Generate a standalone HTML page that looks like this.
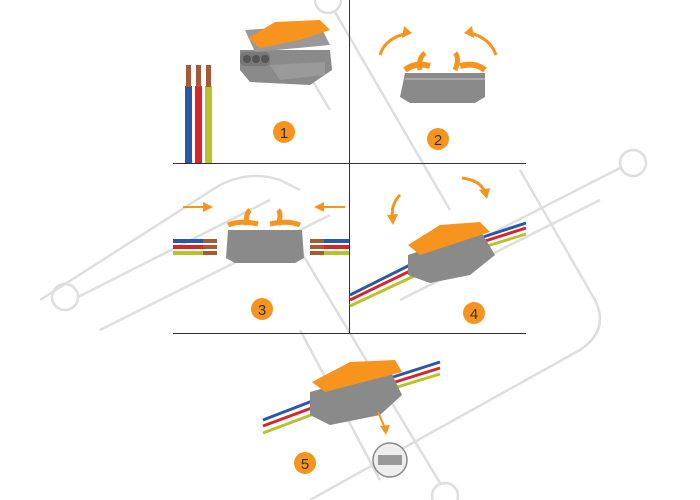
<!DOCTYPE html><html><head><style>body{margin:0;background:#fff}svg{display:block}</style></head><body>
<svg width="700" height="500" viewBox="0 0 700 500" xmlns="http://www.w3.org/2000/svg" font-family="Liberation Sans, sans-serif">
<rect width="700" height="500" fill="#fff"/>
<g stroke="#dedede" stroke-width="2.5" fill="none">
<circle cx="65" cy="297" r="13"/><circle cx="633" cy="163" r="13"/><circle cx="328" cy="0" r="13"/><circle cx="445" cy="496" r="13"/>
<line x1="78" y1="297" x2="270" y2="200"/><line x1="100" y1="330" x2="330" y2="215"/>
<line x1="620" y1="168" x2="420" y2="270"/><line x1="600" y1="200" x2="400" y2="300"/>
<line x1="335" y1="12" x2="450" y2="210"/><line x1="300" y1="60" x2="330" y2="110"/>
<line x1="440" y1="483" x2="300" y2="250"/><line x1="380" y1="480" x2="300" y2="330"/>
<path d="M40 300 L220 185 Q250 170 280 180 L300 190"/>
<path d="M310 500 L580 350 Q610 330 595 300 L520 170"/>
</g>
<g stroke="#333" stroke-width="1">
<line x1="349.5" y1="0" x2="349.5" y2="333"/>
<line x1="173" y1="163.5" x2="526" y2="163.5"/>
<line x1="173" y1="333.5" x2="526" y2="333.5"/>
</g>
<g>
<rect x="185" y="86" width="7" height="77" fill="#2a57a8"/><rect x="195" y="86" width="7" height="77" fill="#d9252a"/><rect x="205" y="86" width="7" height="77" fill="#b7c22c"/>
<rect x="186" y="65" width="5" height="22" fill="#a55a35"/><rect x="196" y="65" width="5" height="22" fill="#a55a35"/><rect x="206" y="65" width="5" height="22" fill="#a55a35"/>
</g>
<g>
<path d="M240 50 L330 50 L332 70 L310 85 L250 82 L240 70Z" fill="#8a8a8a"/>
<path d="M270 65 L325 62 L325 75 L280 80 Z" fill="#9a9a9a"/>
<path d="M245 30 L320 25 L330 45 L255 52 Z" fill="#999"/>
<path d="M248 38 L275 22 L320 20 L330 30 L300 40 L260 48Z" fill="#f7941d"/>
<rect x="240" y="52" width="30" height="14" rx="5" fill="#777"/>
<circle cx="247" cy="59" r="4" fill="#555"/><circle cx="256" cy="59" r="4" fill="#555"/><circle cx="265" cy="59" r="4" fill="#555"/>
</g>
<g>
<path d="M405 73 L485 73 L485 97 L475 103 L410 103 L400 97Z" fill="#8a8a8a"/>
<rect x="405" y="78" width="80" height="2" fill="#aaa"/>
<path d="M405 70 Q415 62 430 66 M460 66 Q475 62 485 70" stroke="#f7941d" stroke-width="6" fill="none"/>
<path d="M420 70 Q418 58 425 53 M455 70 Q460 58 455 53" stroke="#f7941d" stroke-width="5" fill="none"/>
<path d="M380 55 Q385 38 408 33" stroke="#f7941d" stroke-width="3" fill="none"/><path d="M404 26 L412 33 L402 38Z" fill="#f7941d"/>
<path d="M496 55 Q490 38 470 33" stroke="#f7941d" stroke-width="3" fill="none"/><path d="M472 26 L464 33 L474 38Z" fill="#f7941d"/>
</g>
<g>
<rect x="173" y="239" width="30" height="4" fill="#2a57a8"/><rect x="173" y="245" width="30" height="4" fill="#d9252a"/><rect x="173" y="251" width="30" height="4" fill="#b7c22c"/>
<rect x="203" y="239" width="14" height="4" fill="#a55a35"/><rect x="203" y="245" width="14" height="4" fill="#a55a35"/><rect x="203" y="251" width="14" height="4" fill="#a55a35"/>
<rect x="310" y="239" width="14" height="4" fill="#a55a35"/><rect x="310" y="245" width="14" height="4" fill="#a55a35"/><rect x="310" y="251" width="14" height="4" fill="#a55a35"/>
<rect x="324" y="239" width="25" height="4" fill="#2a57a8"/><rect x="324" y="245" width="25" height="4" fill="#d9252a"/><rect x="324" y="251" width="25" height="4" fill="#b7c22c"/>
<path d="M228 230 L302 230 L304 258 L295 263 L235 263 L226 258Z" fill="#8a8a8a"/>
<path d="M228 225 Q240 220 258 224 M270 224 Q288 220 300 225" stroke="#f7941d" stroke-width="5" fill="none"/>
<path d="M247 225 Q245 214 250 210 M278 225 Q282 214 278 210" stroke="#f7941d" stroke-width="5" fill="none"/>
<line x1="183" y1="207" x2="205" y2="207" stroke="#f7941d" stroke-width="2"/><path d="M203 202 L213 207 L203 212Z" fill="#f7941d"/>
<line x1="345" y1="207" x2="322" y2="207" stroke="#f7941d" stroke-width="2"/><path d="M324 202 L314 207 L324 212Z" fill="#f7941d"/>
</g>
<g>
<path d="M350 295 L410 265" stroke="#2a57a8" stroke-width="3"/><path d="M350 300 L412 270" stroke="#d9252a" stroke-width="3"/><path d="M350 306 L414 276" stroke="#b7c22c" stroke-width="3"/>
<path d="M480 238 L526 223" stroke="#2a57a8" stroke-width="3"/><path d="M482 242 L526 228" stroke="#d9252a" stroke-width="3"/><path d="M484 247 L526 234" stroke="#b7c22c" stroke-width="3"/>
<path d="M408 255 L480 230 L495 255 L470 275 L430 283 L408 275Z" fill="#8a8a8a"/>
<path d="M408 245 L440 225 L480 222 L490 232 L420 255Z" fill="#f7941d"/>
<path d="M400 195 Q390 205 393 220" stroke="#f7941d" stroke-width="3" fill="none"/><path d="M387 215 L393 225 L398 214Z" fill="#f7941d"/>
<path d="M462 178 Q480 180 485 192" stroke="#f7941d" stroke-width="3" fill="none"/><path d="M479 190 L487 199 L490 188Z" fill="#f7941d"/>
</g>
<g>
<path d="M263 420 L315 400" stroke="#2a57a8" stroke-width="3"/><path d="M263 426 L317 406" stroke="#d9252a" stroke-width="3"/><path d="M263 433 L319 412" stroke="#b7c22c" stroke-width="3"/>
<path d="M390 378 L440 362" stroke="#2a57a8" stroke-width="3"/><path d="M392 383 L440 368" stroke="#d9252a" stroke-width="3"/><path d="M394 388 L440 374" stroke="#b7c22c" stroke-width="3"/>
<path d="M310 392 L390 370 L402 395 L380 415 L330 425 L310 415Z" fill="#8a8a8a"/>
<path d="M312 382 L350 362 L395 360 L402 372 L325 392Z" fill="#f7941d"/>
<path d="M378 412 L385 428" stroke="#f7941d" stroke-width="2"/><path d="M380 426 L386 435 L390 425Z" fill="#f7941d"/>
<circle cx="390" cy="460" r="17" fill="#eee" stroke="#888" stroke-width="1.5"/>
<rect x="378" y="455" width="24" height="10" fill="#999"/>
</g>
<g fill="#f7941d"><circle cx="284" cy="132" r="11"/><circle cx="438" cy="139" r="11"/><circle cx="262" cy="309" r="11"/><circle cx="474" cy="313" r="11"/><circle cx="305" cy="463" r="11"/></g>
<g font-size="15" fill="#333" text-anchor="middle">
<text x="284" y="138">1</text><text x="438" y="145">2</text><text x="262" y="315">3</text><text x="474" y="319">4</text><text x="305" y="469">5</text></g>
</svg>
</body></html>
